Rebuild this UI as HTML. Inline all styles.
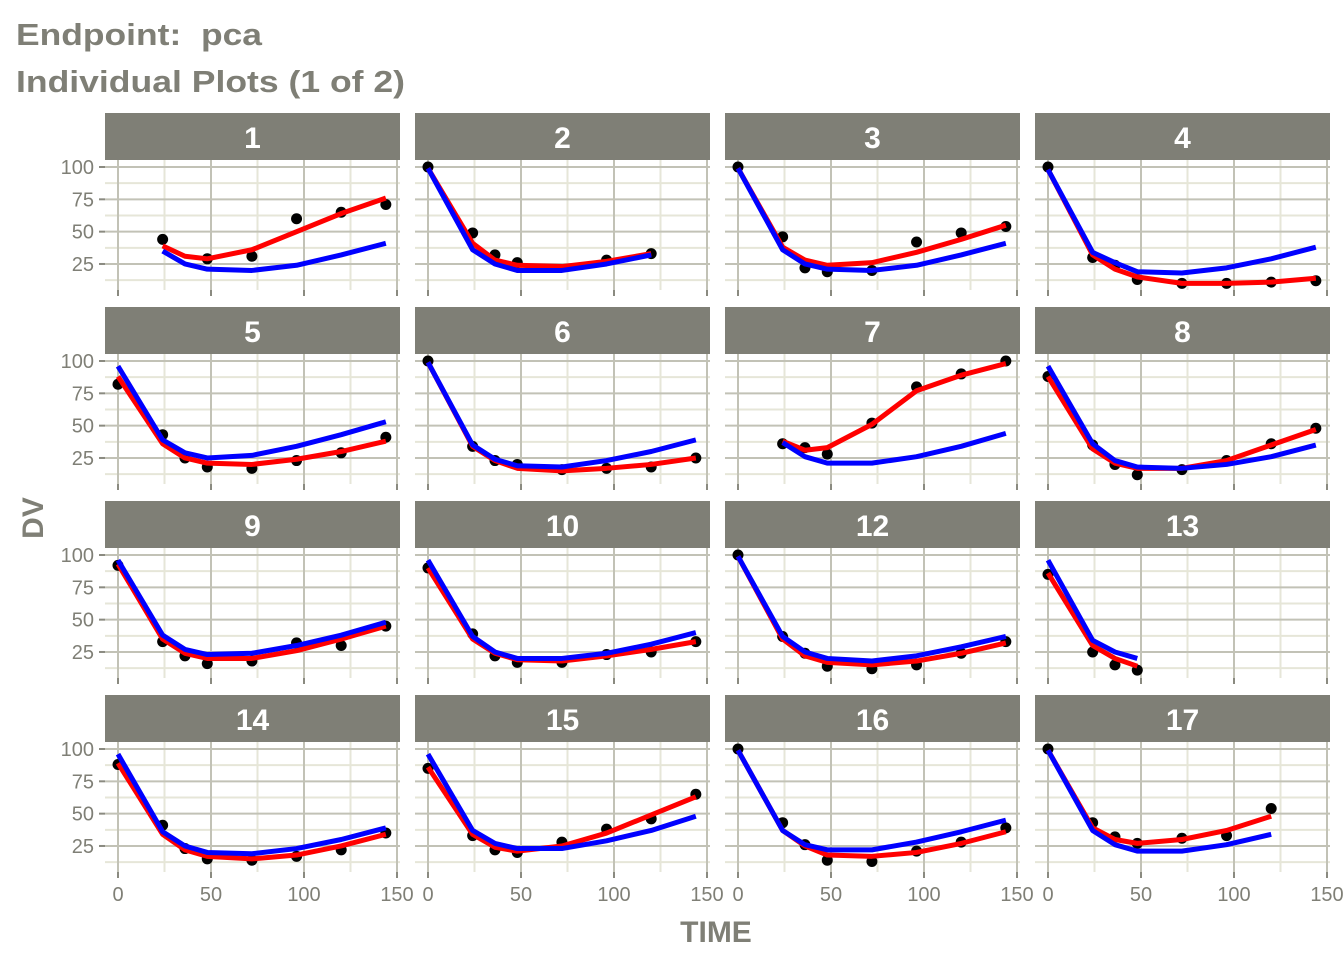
<!DOCTYPE html>
<html><head><meta charset="utf-8"><style>
body{margin:0;background:#fff;}
svg{display:block;font-family:"Liberation Sans",sans-serif;}
</style></head><body>
<svg id="c" width="1344" height="960">
<text x="16" y="45" font-size="31" font-weight="bold" fill="#7f7f76" textLength="246" lengthAdjust="spacingAndGlyphs">Endpoint:&#160;&#160;pca</text>
<text x="16" y="92" font-size="31" font-weight="bold" fill="#7f7f76" textLength="389" lengthAdjust="spacingAndGlyphs">Individual Plots (1 of 2)</text>
<text x="716" y="942" font-size="30" font-weight="bold" fill="#7f7f76" text-anchor="middle">TIME</text>
<text transform="translate(43,518) rotate(-90)" font-size="30" font-weight="bold" fill="#7f7f76" text-anchor="middle">DV</text>
</svg>
<script>
const ids=["1","2","3","4","5","6","7","8","9","10","12","13","14","15","16","17"];
const times=[0,24,36,48,72,96,120,144];
const dvData=[
[null,44,null,29,31,60,65,71],[100,49,32,26,null,28,33,null],[100,46,22,19,20,42,49,54],[100,30,24,13,10,10,11,12],
[82,43,25,18,17,23,29,41],[100,34,23,20,16,17,18,25],[null,36,33,28,52,80,90,100],[88,35,20,12,16,23,36,48],
[92,33,22,16,18,32,30,45],[90,39,22,17,17,23,25,33],[100,37,24,14,12,15,24,33],[85,25,15,11,null,null,null,null],
[88,41,23,15,14,17,22,35],[85,33,22,20,28,38,46,65],[100,43,26,14,13,21,28,39],[100,43,32,27,31,33,54,null]];
const ipredData=[
[null,39,31,29,36,50,64,76],[99,41,28,24,23,27,33,null],[99,38,28,24,26,34,44,55],[98,32,21,15,10,10,11,14],
[88,36,25,21,20,24,30,38],[99,34,23,17,15,17,20,25],[null,38,31,33,51,77,89,98],[88,32,21,17,17,23,35,47],
[93,35,24,20,20,26,35,45],[90,35,24,19,18,22,27,33],[99,35,22,17,15,18,24,32],[86,30,20,14,null,null,null,null],
[89,34,22,17,15,18,25,34],[86,34,24,21,25,35,49,63],[99,37,25,18,17,20,27,36],[99,39,30,27,30,37,48,null]];
const predData=[
[null,35,25,21,20,24,32,41],[99,36,25,20,20,25,32,null],[99,36,25,21,20,24,32,41],[98,34,26,19,18,22,29,38],
[96,39,29,25,27,34,43,53],[99,35,24,19,18,23,30,39],[null,37,26,21,21,26,34,44],[96,36,23,18,17,20,26,35],
[96,38,27,23,24,30,38,48],[96,37,25,20,20,24,31,40],[99,37,25,20,18,22,29,37],[96,34,25,20,null,null,null,null],
[96,36,25,20,19,23,30,39],[96,37,27,23,23,29,37,48],[99,37,26,22,22,28,36,45],[99,37,26,21,21,26,34,null]];
const xTicks=[0,50,100,150], yTicks=[25,50,75,100];
const NS="http://www.w3.org/2000/svg", svg=document.getElementById('c');
function mk(tag,a,p){const e=document.createElementNS(NS,tag);for(const k in a)e.setAttribute(k,a[k]);(p||svg).appendChild(e);return e;}
const colX=[105,415,725,1035], PW=295, rowTop=[113,307,501,695], SH=47, PH=130;
ids.forEach((id,i)=>{
 const c=i%4,r=Math.floor(i/4),x0=colX[c],st=rowTop[r],py=st+SH;
 const sx=t=>x0+13+t*1.86, sy=v=>py+7+(100-v)*1.293;
 const g=mk('g',{});
 
 
 const strip=mk('rect',{x:x0,y:st,width:PW,height:SH,fill:'#7f7f76'},g);
 
 
 const lab=mk('text',{x:x0+PW/2,y:st+35,'font-size':30,'font-weight':'bold',fill:'#fff','text-anchor':'middle'},g);
 lab.textContent=id;
 
 
 const cl='clip'+i;const cp=mk('clipPath',{id:cl},g);mk('rect',{x:x0,y:py,width:PW,height:PH},cp);
 [12.5,37.5,62.5,87.5].forEach(v=>mk('line',{x1:x0,x2:x0+PW,y1:sy(v),y2:sy(v),stroke:'#e6e6d8','stroke-width':2},g));
 [25,75,125].forEach(t=>mk('line',{x1:sx(t),x2:sx(t),y1:py,y2:py+PH,stroke:'#e6e6d8','stroke-width':2},g));
 yTicks.forEach(v=>mk('line',{x1:x0,x2:x0+PW,y1:sy(v),y2:sy(v),stroke:'#c2c2b6','stroke-width':2},g));
 xTicks.forEach(t=>{mk('line',{x1:sx(t),x2:sx(t),y1:py,y2:py+PH,stroke:'#c2c2b6','stroke-width':2},g);
   mk('line',{x1:sx(t),x2:sx(t),y1:py+PH,y2:py+PH+6,stroke:'#8a8a80','stroke-width':2},g);});
 if(c===0) yTicks.forEach(v=>{mk('line',{x1:x0-6,x2:x0,y1:sy(v),y2:sy(v),stroke:'#8a8a80','stroke-width':2},g);
   const t=mk('text',{x:x0-11,y:sy(v)+7,'font-size':20,fill:'#7f7f76','text-anchor':'end'},g);t.textContent=v;
   
   });
 if(r===3) xTicks.forEach(v=>{const t=mk('text',{x:sx(v),y:py+PH+29,'font-size':20,fill:'#7f7f76','text-anchor':'middle'},g);t.textContent=v;
   
   });
 const dg=mk('g',{'clip-path':'url(#'+cl+')'},g);
 dvData[i].forEach((v,k)=>{if(v==null)return;const p=mk('circle',{cx:sx(times[k]),cy:sy(v),r:5.5,fill:'#000'},dg);
   
   });
 [[ipredData,'#ff0000','ipred-line'],[predData,'#0000ff','pred-line']].forEach(([d,col,nm])=>{
   const pts=[];d[i].forEach((v,k)=>{if(v!=null)pts.push(sx(times[k])+','+sy(v));});
   const l=mk('polyline',{points:pts.join(' '),fill:'none',stroke:col,'stroke-width':5,'stroke-linejoin':'round'},dg);
   
   });
});
</script>
</body></html>
